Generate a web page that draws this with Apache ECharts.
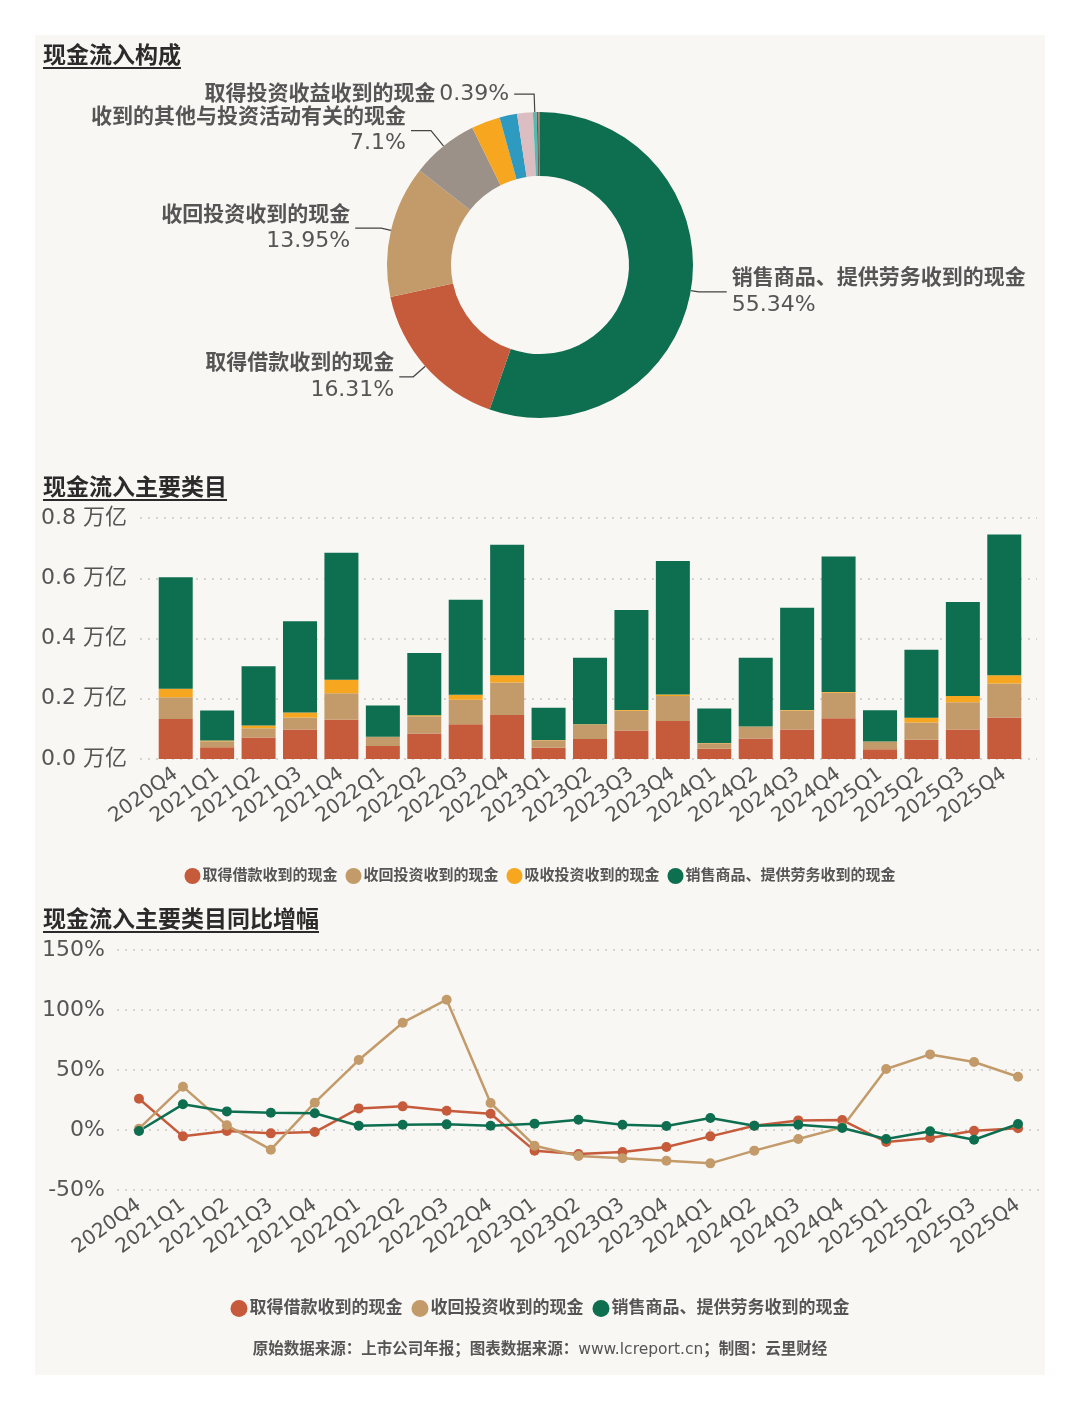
<!DOCTYPE html>
<html>
<head>
<meta charset="utf-8">
<script src="https://cdn.jsdelivr.net/npm/echarts@6/dist/echarts.min.js"></script>
<style>
  body { margin: 0; background: #ffffff; }
  #card { position: absolute; left: 35px; top: 35px; width: 1010px; height: 1340px; background: #f9f7f4; }
  #chart { position: absolute; left: 0; top: 0; width: 1080px; height: 1410px; }
  .ttl { position: absolute; left: 43px; font-family: "Noto Sans CJK SC", sans-serif; font-weight: bold;
         font-size: 23px; color: #2b2b2b; text-decoration: underline; text-underline-offset: 4px;
         text-decoration-thickness: 2px; line-height: 30px; }
</style>
</head>
<body>
<div id="card"></div>
<div id="chart"></div>
<div class="ttl" style="top:38px">现金流入构成</div>
<div class="ttl" style="top:470px">现金流入主要类目</div>
<div class="ttl" style="top:902px">现金流入主要类目同比增幅</div>
<script>
var FONT = 'DejaVu Sans, Noto Sans CJK SC, sans-serif';

// 现金流入构成 (%)
var pieNames = ['销售商品、提供劳务收到的现金', '取得借款收到的现金', '收回投资收到的现金',
    '收到的其他与投资活动有关的现金', '吸收投资收到的现金', '收到其他与经营活动有关的现金',
    '收到的税费返还', '取得投资收益收到的现金', '处置固定资产、无形资产和其他长期资产收回的现金净额',
    '处置子公司及其他营业单位收到的现金净额'];
var pieValues = [55.34, 16.31, 13.95, 7.1, 3.05, 1.85, 1.66, 0.39, 0.2, 0.15];
var pieColors = ['#0d6e50', '#c65b3c', '#c39b6a', '#9b9189', '#f6a61f', '#2f9abf',
    '#dcbdc1', '#55bbb0', '#6b5d5a', '#c27048'];
var pieShowLabel = [true, true, true, true, false, false, false, true, false, false];

// 季度
var quarters = ['2020Q4', '2021Q1', '2021Q2', '2021Q3', '2021Q4', '2022Q1', '2022Q2', '2022Q3',
    '2022Q4', '2023Q1', '2023Q2', '2023Q3', '2023Q4', '2024Q1', '2024Q2', '2024Q3', '2024Q4',
    '2025Q1', '2025Q2', '2025Q3', '2025Q4'];

// 现金流入主要类目 (万亿)
var borrowCash = [0.133, 0.039, 0.071, 0.098, 0.130, 0.043, 0.085, 0.115, 0.146, 0.037, 0.066,
    0.095, 0.126, 0.034, 0.068, 0.098, 0.135, 0.032, 0.064, 0.098, 0.138];
var recoverCash = [0.072, 0.020, 0.031, 0.040, 0.088, 0.030, 0.057, 0.082, 0.108, 0.025, 0.048,
    0.065, 0.083, 0.018, 0.039, 0.063, 0.085, 0.025, 0.057, 0.090, 0.113];
var absorbCash = [0.028, 0.002, 0.009, 0.016, 0.045, 0.001, 0.003, 0.016, 0.024, 0.001, 0.001,
    0.003, 0.005, 0.001, 0.001, 0.002, 0.002, 0.001, 0.016, 0.021, 0.027];
var salesCash = [0.370, 0.100, 0.197, 0.303, 0.422, 0.104, 0.207, 0.316, 0.433, 0.107, 0.221,
    0.332, 0.443, 0.115, 0.228, 0.339, 0.450, 0.104, 0.226, 0.312, 0.467];
var barTicks = [0, 0.2, 0.4, 0.6, 0.8];

// 同比增幅 (%)
var borrowYoy = [26.1, -5.3, -0.8, -2.8, -1.7, 18.0, 19.7, 16.1, 13.6, -17.2, -20.0, -18.3,
    -14.2, -5.3, 3.6, 8.0, 8.3, -10.0, -6.7, -0.6, 1.4];
var recoverYoy = [1.1, 36.1, 3.9, -16.4, 22.8, 58.3, 89.4, 108.6, 22.5, -13.1, -21.7, -23.6,
    -25.6, -27.8, -17.2, -7.5, 2.2, 50.8, 63.0, 56.7, 44.4];
var salesYoy = [-0.8, 21.4, 15.5, 14.4, 13.9, 3.6, 4.4, 4.7, 3.6, 5.3, 8.6, 4.4, 3.3, 10.0,
    3.6, 4.4, 1.7, -7.5, -1.1, -8.1, 5.0];
var yoyTicks = [-50, 0, 50, 100, 150];

// 饼图标签线长度
var lineLen = [8, 16, 10, 20, 0, 0, 0, 18, 0, 0];
var lineLen2 = [28, 14, 26, 20, 0, 0, 0, 20, 0, 0];

var pieData = pieNames.map(function (n, i) {
    return {
        name: n,
        value: pieValues[i],
        itemStyle: { color: pieColors[i] },
        label: { show: pieShowLabel[i] },
        labelLine: { show: pieShowLabel[i], length: lineLen[i], length2: lineLen2[i] }
    };
});

var myChart = echarts.init(document.getElementById('chart'));

var labelColor = '#555';
var splitStyle = { show: true, lineStyle: { type: [2, 6], color: '#c8c8c8', width: 1.5 } };
var hidden = { show: false };

var option = {
    backgroundColor: 'transparent',
    textStyle: { fontFamily: FONT },
    animation: false,
    legend: [{
        data: ['取得借款收到的现金', '收回投资收到的现金', '吸收投资收到的现金', '销售商品、提供劳务收到的现金'],
        left: 'center', top: 863, icon: 'circle', itemWidth: 16, itemHeight: 16, itemGap: 8,
        textStyle: { color: labelColor, fontSize: 15, fontWeight: 'bold', fontFamily: FONT, padding: [0, 0, 0, -3] }
    }, {
        data: ['取得借款收到的现金 ', '收回投资收到的现金 ', '销售商品、提供劳务收到的现金 '],
        formatter: function (n) { return n.trim(); },
        left: 'center', top: 1295, icon: 'circle', itemWidth: 17, itemHeight: 17, itemGap: 9,
        textStyle: { color: labelColor, fontSize: 17, fontWeight: 'bold', fontFamily: FONT, padding: [0, 0, 0, -3] }
    }],
    grid: [
        { left: 155, right: 55, top: 518, bottom: 651 },
        { left: 117, right: 40, top: 950, bottom: 220 },
        // 柱状图背景网格线
        { left: 140, right: 43, top: 518, bottom: 651 }
    ],
    xAxis: [{
        type: 'category', gridIndex: 0, data: quarters,
        axisLine: hidden, axisTick: hidden,
        axisLabel: { rotate: 36, fontSize: 20, margin: 13, interval: 0, color: labelColor, fontFamily: FONT }
    }, {
        type: 'category', gridIndex: 1, data: quarters,
        axisLine: hidden, axisTick: hidden,
        axisLabel: { rotate: 36, fontSize: 20, margin: 13, interval: 0, color: labelColor, fontFamily: FONT }
    }, {
        type: 'value', gridIndex: 2, min: 0, max: 1, show: false
    }],
    yAxis: [{
        type: 'value', gridIndex: 0, min: barTicks[0], max: barTicks[barTicks.length - 1], interval: 0.2,
        axisLine: hidden, axisTick: hidden, splitLine: hidden, axisLabel: hidden
    }, {
        type: 'value', gridIndex: 1, min: yoyTicks[0], max: yoyTicks[yoyTicks.length - 1], interval: 50,
        axisLine: hidden, axisTick: hidden, splitLine: splitStyle,
        axisLabel: {
            fontSize: 22, margin: 12, color: labelColor, fontFamily: FONT,
            formatter: function (v) { return v + '%'; }
        }
    }, {
        type: 'value', gridIndex: 2, min: barTicks[0], max: barTicks[barTicks.length - 1], interval: 0.2,
        axisLine: hidden, axisTick: hidden, splitLine: splitStyle,
        axisLabel: {
            fontSize: 22, margin: 13, color: labelColor, fontFamily: FONT,
            formatter: function (v) { return v.toFixed(1) + ' 万亿'; }
        }
    }],
    graphic: [{
        type: 'text', left: 'center', top: 1342,
        style: {
            text: '{b|原始数据来源：上市公司年报；图表数据来源：}{n|www.lcreport.cn}{b|；制图：云里财经}',
            rich: {
                b: { fontFamily: FONT, fontSize: 15.5, fontWeight: 'bold', fill: labelColor },
                n: { fontFamily: FONT, fontSize: 15.5, fill: labelColor }
            }
        }
    }],
    series: [{
        type: 'pie', center: [540, 265], radius: [89, 153],
        startAngle: 90, clockwise: true, avoidLabelOverlap: false,
        data: pieData,
        label: {
            formatter: function (p) {
                if (p.value < 1) return '{n|' + p.name + '} {p|' + p.value + '%}';
                return '{n|' + p.name + '}\n{p|' + p.value + '%}';
            },
            rich: {
                n: { fontSize: 21, fontWeight: 'bold', color: labelColor, fontFamily: FONT, lineHeight: 26 },
                p: { fontSize: 22, color: labelColor, fontFamily: FONT, lineHeight: 26 }
            }
        },
        labelLine: { lineStyle: { color: '#444', width: 1.2 } },
        emphasis: { disabled: true }
    },
    {
        name: '取得借款收到的现金', type: 'bar', stack: 'cash', xAxisIndex: 0, yAxisIndex: 0,
        barWidth: 34, data: borrowCash, itemStyle: { color: '#c65b3c' }
    }, {
        name: '收回投资收到的现金', type: 'bar', stack: 'cash', xAxisIndex: 0, yAxisIndex: 0,
        barWidth: 34, data: recoverCash, itemStyle: { color: '#c39b6a' }
    }, {
        name: '吸收投资收到的现金', type: 'bar', stack: 'cash', xAxisIndex: 0, yAxisIndex: 0,
        barWidth: 34, data: absorbCash, itemStyle: { color: '#f6a61f' }
    }, {
        name: '销售商品、提供劳务收到的现金', type: 'bar', stack: 'cash', xAxisIndex: 0, yAxisIndex: 0,
        barWidth: 34, data: salesCash, itemStyle: { color: '#0d6e50' }
    },
    {
        name: '取得借款收到的现金 ', type: 'line', xAxisIndex: 1, yAxisIndex: 1, data: borrowYoy,
        symbol: 'circle', symbolSize: 10, lineStyle: { width: 2.5, color: '#c65b3c' }, itemStyle: { color: '#c65b3c' }
    }, {
        name: '收回投资收到的现金 ', type: 'line', xAxisIndex: 1, yAxisIndex: 1, data: recoverYoy,
        symbol: 'circle', symbolSize: 10, lineStyle: { width: 2.5, color: '#c39b6a' }, itemStyle: { color: '#c39b6a' }
    }, {
        name: '销售商品、提供劳务收到的现金 ', type: 'line', xAxisIndex: 1, yAxisIndex: 1, data: salesYoy,
        symbol: 'circle', symbolSize: 10, lineStyle: { width: 2.5, color: '#0d6e50' }, itemStyle: { color: '#0d6e50' }
    }]
};

myChart.setOption(option);
</script>
</body>
</html>
